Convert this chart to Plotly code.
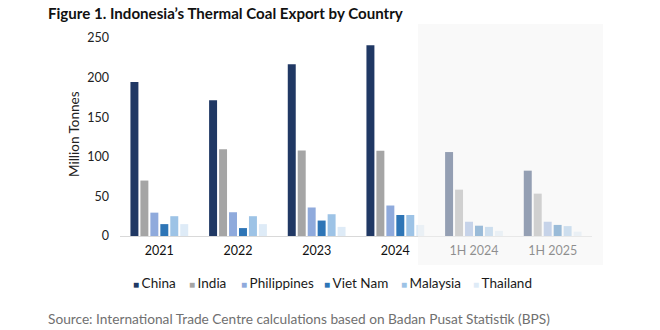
import plotly.graph_objects as go

categories = ["2021", "2022", "2023", "2024", "1H 2024", "1H 2025"]
countries = ["China", "India", "Philippines", "Viet Nam", "Malaysia", "Thailand"]
china = [194.5, 171.5, 217, 241, 106, 82.5]
india = [70, 109.5, 108, 107.5, 58.5, 53.5]
philippines = [29.5, 30, 36, 38.5, 18, 18]
viet_nam = [15, 10, 19.5, 26.5, 13, 14]
malaysia = [25, 25, 27.5, 26.5, 11.5, 12.5]
thailand = [15, 15, 11.5, 14, 6.5, 5.5]
series = [china, india, philippines, viet_nam, malaysia, thailand]
colors = ["#203864", "#A5A5A5", "#8FAADC", "#2E75B6", "#9DC3E6", "#DEEBF7"]
y_ticks = [0, 50, 100, 150, 200, 250]

FONT = "Lato"
W, H = 660, 330
L, R, T, B = 120, 68, 38, 94
pw, ph = W - L - R, H - T - B

def px_x(p):
    return (p - L) / pw

def px_y(p):
    return (H - B - p) / ph

fig = go.Figure()
for name, vals, col in zip(countries, series, colors):
    fig.add_trace(go.Bar(x=categories, y=vals, name=name, marker_color=col,
                         marker_line_width=0, showlegend=False))

fig.update_layout(
    width=W, height=H, margin=dict(l=L, r=R, t=T, b=B, autoexpand=False),
    paper_bgcolor="white", plot_bgcolor="white",
    barmode="group", bargap=0.24, bargroupgap=0.2,
    font=dict(family=FONT, color="#1a1a1a", size=12),
    xaxis=dict(showgrid=False, showline=True, linecolor="#D9D9D9", linewidth=1,
               ticks="", tickfont=dict(size=12.5, color="#111111"), ticklabelstandoff=3),
    yaxis=dict(range=[0, 250], tickvals=y_ticks, showgrid=False, zeroline=False,
               showline=False, ticks="", tickfont=dict(size=12.5, color="#222222"),
               ticklabelstandoff=10),
)

# Shaded region for half-year data (drawn above, fading the bars)
fig.add_shape(type="rect", xref="paper", yref="paper",
              x0=px_x(418), x1=px_x(603), y0=px_y(265), y1=px_y(24),
              fillcolor="rgba(244,244,244,0.55)", line_width=0, layer="above")

annotations = []
annotations.append(dict(text="<b>Figure 1. Indonesia’s Thermal Coal Export by Country</b>",
                        xref="paper", yref="paper", x=px_x(46), y=px_y(13),
                        xanchor="left", yanchor="middle", showarrow=False,
                        font=dict(size=15.1, color="#111111", family=FONT)))
annotations.append(dict(text="Million Tonnes", xref="paper", yref="paper",
                        x=px_x(74), y=px_y(134), textangle=-90,
                        xanchor="center", yanchor="middle", showarrow=False,
                        font=dict(size=13.5, color="#222222", family=FONT)))
annotations.append(dict(text="Source: International Trade Centre calculations based on Badan Pusat Statistik (BPS)",
                        xref="paper", yref="paper", x=px_x(46), y=px_y(318),
                        xanchor="left", yanchor="middle", showarrow=False,
                        font=dict(size=13.7, color="#707070", family=FONT)))
legend_x = [131, 187, 239, 322, 399, 471]
for name, col, lx in zip(countries, colors, legend_x):
    annotations.append(dict(text=f'<span style="color:{col};font-size:10px">■ </span>{name}',
                            xref="paper", yref="paper", x=px_x(lx), y=px_y(283),
                            xanchor="left", yanchor="middle", showarrow=False,
                            font=dict(size=13.5, color="#1a1a1a", family=FONT)))
fig.update_layout(annotations=annotations)

fig.write_html("out.html")
